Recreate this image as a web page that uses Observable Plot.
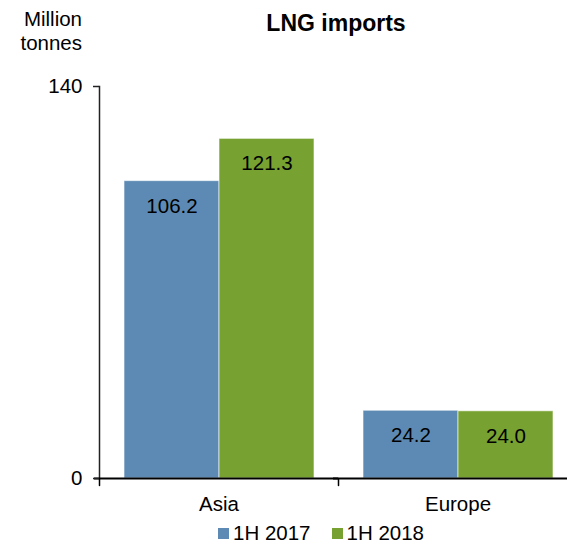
<!DOCTYPE html>
<html>
<head>
<meta charset="utf-8">
<script src="https://cdn.jsdelivr.net/npm/d3@7"></script>
<script src="https://cdn.jsdelivr.net/npm/@observablehq/plot@0.6"></script>
<style>
  body { margin: 0; background: #fff; font-family: "Liberation Sans", Arial, sans-serif; color: #000; }
  #wrap { position: relative; width: 567px; height: 544px; overflow: hidden; }
  #chart { position: absolute; left: 0; top: 0; }
  #title { position: absolute; left: 236px; width: 200px; top: 12px; text-align: center; font-weight: bold; font-size: 23px; line-height: 23px; white-space: nowrap; }
  #units { position: absolute; left: 0; width: 82px; top: 7px; text-align: right; font-size: 20.5px; line-height: 24px; }
  #legend { position: absolute; left: 218px; top: 523px; display: flex; align-items: center; font-size: 20.5px; line-height: 20px; white-space: nowrap; }
  .item { display: flex; align-items: center; margin-right: 21px; }
  .sw { width: 11px; height: 11px; margin-right: 4px; }
</style>
</head>
<body>
<div id="wrap">
  <div id="chart"></div>
  <div id="title">LNG imports</div>
  <div id="units">Million<br>tonnes</div>
  <div id="legend"></div>
</div>
<script>
const regions = ["Asia", "Europe"];
const series = ["1H 2017", "1H 2018"];
const values2017 = [106.2, 24.2];
const values2018 = [121.3, 24.0];
const yTicks = [0, 140];
const colors = ["#5d8ab4", "#77a130"];

const data = regions.flatMap((r, i) => [
  {region: r, series: series[0], value: values2017[i]},
  {region: r, series: series[1], value: values2018[i]}
]);

const chart = Plot.plot({
  width: 567,
  height: 544,
  marginLeft: 99,
  marginRight: -10,
  marginTop: 86,
  marginBottom: 66,
  style: {fontFamily: "'Liberation Sans', Arial, sans-serif", fontSize: "20.5px", background: "transparent", color: "#000"},
  fx: {domain: regions, padding: 0, label: null},
  x: {domain: series, paddingInner: 0, paddingOuter: 0.25, axis: null},
  y: {domain: [0, 140], axis: null, label: null},
  color: {domain: series, range: colors},
  marks: [
    Plot.barY(data, {fx: "region", x: "series", y: "value", fill: "series", stroke: "white", strokeOpacity: 0.6, strokeWidth: 1}),
    Plot.text(data, {fx: "region", x: "series", y: "value", text: d => d.value.toFixed(1), dy: 25, fontSize: 20.5, fill: "#000", lineAnchor: "middle"}),
    Plot.frame({anchor: "left", facetAnchor: "left", stroke: "#222", strokeWidth: 1.5}),
    Plot.ruleY([0], {stroke: "#000", strokeWidth: 2, insetLeft: -5}),
    Plot.vector([0], {frameAnchor: "bottom-left", length: 7, rotate: 180, anchor: "start", r: 0, stroke: "#000", strokeWidth: 1.5}),
    Plot.axisY({ticks: yTicks, tickSize: 6, tickPadding: 11, fontSize: 20.5, label: null, stroke: "#222", strokeWidth: 1.5}),
    Plot.axisFx({anchor: "bottom", tickSize: 0, tickPadding: 18, fontSize: 20.5, label: null})
  ]
});
document.getElementById("chart").appendChild(chart);

const legend = document.getElementById("legend");
series.forEach((s, i) => {
  const item = document.createElement("div");
  item.className = "item";
  const sw = document.createElement("div");
  sw.className = "sw";
  sw.style.background = colors[i];
  const t = document.createElement("span");
  t.textContent = s;
  item.appendChild(sw);
  item.appendChild(t);
  legend.appendChild(item);
});
</script>
</body>
</html>
